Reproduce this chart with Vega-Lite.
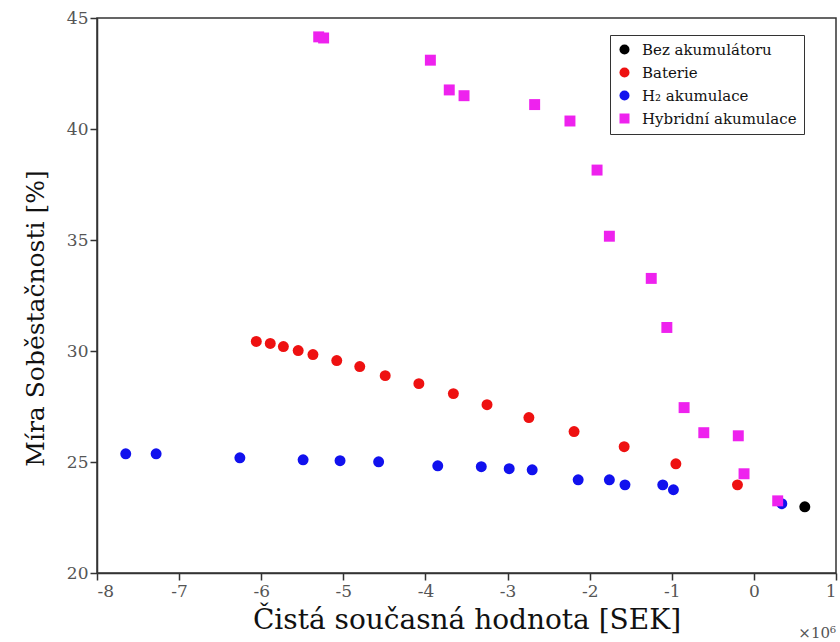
{
  "$schema": "https://vega.github.io/schema/vega-lite/v6.json",
  "autosize": "none",
  "width": 739,
  "height": 555,
  "padding": {"left": 97, "top": 18, "right": 4, "bottom": 69},
  "background": "white",
  "config": {
    "view": {"stroke": "#333333", "strokeWidth": 1.5},
    "font": "DejaVu Serif",
    "axis": {
      "grid": false,
      "domainColor": "#333333",
      "domainWidth": 1.5,
      "tickColor": "#333333",
      "tickWidth": 1.5,
      "labelFont": "DejaVu Serif",
      "labelColor": "#555555",
      "labelFontSize": 17,
      "titleFont": "DejaVu Serif",
      "titleColor": "#111111",
      "titleFontWeight": "normal"
    }
  },
  "datasets": {
    "pts": [
      {"x": 0.62, "y": 22.98, "s": "Bez akumulátoru"},
      {"x": -6.06, "y": 30.43, "s": "Baterie"},
      {"x": -5.89, "y": 30.34, "s": "Baterie"},
      {"x": -5.73, "y": 30.2, "s": "Baterie"},
      {"x": -5.55, "y": 30.02, "s": "Baterie"},
      {"x": -5.37, "y": 29.84, "s": "Baterie"},
      {"x": -5.08, "y": 29.57, "s": "Baterie"},
      {"x": -4.8, "y": 29.3, "s": "Baterie"},
      {"x": -4.49, "y": 28.89, "s": "Baterie"},
      {"x": -4.08, "y": 28.53, "s": "Baterie"},
      {"x": -3.66, "y": 28.08, "s": "Baterie"},
      {"x": -3.25, "y": 27.58, "s": "Baterie"},
      {"x": -2.74, "y": 27.0, "s": "Baterie"},
      {"x": -2.19, "y": 26.37, "s": "Baterie"},
      {"x": -1.58, "y": 25.69, "s": "Baterie"},
      {"x": -0.95, "y": 24.92, "s": "Baterie"},
      {"x": -0.2, "y": 23.97, "s": "Baterie"},
      {"x": -7.65, "y": 25.37, "s": "H₂ akumulace"},
      {"x": -7.28, "y": 25.37, "s": "H₂ akumulace"},
      {"x": -6.26, "y": 25.19, "s": "H₂ akumulace"},
      {"x": -5.49, "y": 25.1, "s": "H₂ akumulace"},
      {"x": -5.04, "y": 25.06, "s": "H₂ akumulace"},
      {"x": -4.57, "y": 25.01, "s": "H₂ akumulace"},
      {"x": -3.85, "y": 24.83, "s": "H₂ akumulace"},
      {"x": -3.32, "y": 24.79, "s": "H₂ akumulace"},
      {"x": -2.98, "y": 24.7, "s": "H₂ akumulace"},
      {"x": -2.7, "y": 24.65, "s": "H₂ akumulace"},
      {"x": -2.14, "y": 24.2, "s": "H₂ akumulace"},
      {"x": -1.76, "y": 24.2, "s": "H₂ akumulace"},
      {"x": -1.57, "y": 23.97, "s": "H₂ akumulace"},
      {"x": -1.11, "y": 23.97, "s": "H₂ akumulace"},
      {"x": -0.98, "y": 23.75, "s": "H₂ akumulace"},
      {"x": 0.34, "y": 23.12, "s": "H₂ akumulace"},
      {"x": -5.3, "y": 44.15, "s": "Hybridní akumulace"},
      {"x": -5.24, "y": 44.1, "s": "Hybridní akumulace"},
      {"x": -3.94, "y": 43.1, "s": "Hybridní akumulace"},
      {"x": -3.71, "y": 41.76, "s": "Hybridní akumulace"},
      {"x": -3.53, "y": 41.5, "s": "Hybridní akumulace"},
      {"x": -2.67, "y": 41.1, "s": "Hybridní akumulace"},
      {"x": -2.24, "y": 40.36, "s": "Hybridní akumulace"},
      {"x": -1.91, "y": 38.15, "s": "Hybridní akumulace"},
      {"x": -1.76, "y": 35.17, "s": "Hybridní akumulace"},
      {"x": -1.25, "y": 33.27, "s": "Hybridní akumulace"},
      {"x": -1.06, "y": 31.06, "s": "Hybridní akumulace"},
      {"x": -0.85, "y": 27.45, "s": "Hybridní akumulace"},
      {"x": -0.61, "y": 26.32, "s": "Hybridní akumulace"},
      {"x": -0.19, "y": 26.18, "s": "Hybridní akumulace"},
      {"x": -0.12, "y": 24.47, "s": "Hybridní akumulace"},
      {"x": 0.29, "y": 23.25, "s": "Hybridní akumulace"}
    ],
    "note": [{"x": 1, "y": 20, "t": "×10⁶"}]
  },
  "layer": [
    {
      "data": {"name": "pts"},
      "mark": {"type": "point", "filled": true, "opacity": 1, "size": 120},
      "encoding": {
        "x": {
          "field": "x", "type": "quantitative",
          "scale": {"domain": [-8, 1], "nice": false, "zero": false},
          "axis": {"values": [-8, -7, -6, -5, -4, -3, -2, -1, 0, 1], "labelExpr": "'' + datum.value", "tickSize": 7, "labelPadding": 3, "title": "Čistá současná hodnota [SEK]", "titleFontSize": 28, "titlePadding": 7,
            "encode": {"ticks": {"update": {"y2": {"value": -7}}}}}
        },
        "y": {
          "field": "y", "type": "quantitative",
          "scale": {"domain": [20, 45], "nice": false, "zero": false},
          "axis": {"values": [20, 25, 30, 35, 40, 45], "labelExpr": "'' + datum.value", "tickSize": 7, "labelPadding": 2, "title": "Míra Soběstačnosti [%]", "titleFontSize": 25, "titlePadding": 18, "titleY": 300,
            "encode": {"ticks": {"update": {"x2": {"value": 7}}}}}
        },
        "color": {
          "field": "s", "type": "nominal",
          "scale": {
            "domain": ["Bez akumulátoru", "Baterie", "H₂ akumulace", "Hybridní akumulace"],
            "range": ["#000000", "#ee1111", "#1111ee", "#ee22ee"]
          },
          "legend": {
            "title": null,
            "orient": "none",
            "legendX": 513,
            "legendY": 17,
            "strokeColor": "#333333",
            "fillColor": "white",
            "padding": 7,
            "labelFont": "DejaVu Serif",
            "labelFontSize": 15,
            "labelOffset": 10,
            "labelLimit": 300,
            "labelColor": "#111111",
            "symbolSize": 100,
            "rowPadding": 7
          }
        },
        "shape": {
          "field": "s", "type": "nominal",
          "scale": {
            "domain": ["Bez akumulátoru", "Baterie", "H₂ akumulace", "Hybridní akumulace"],
            "range": ["circle", "circle", "circle", "square"]
          },
          "legend": null
        }
      }
    },
    {
      "data": {"name": "note"},
      "mark": {"type": "text", "font": "DejaVu Serif", "fontSize": 15, "color": "#555555", "align": "right", "dy": 60, "dx": 0},
      "encoding": {
        "x": {"field": "x", "type": "quantitative"},
        "y": {"field": "y", "type": "quantitative"},
        "text": {"field": "t"}
      }
    }
  ]
}
